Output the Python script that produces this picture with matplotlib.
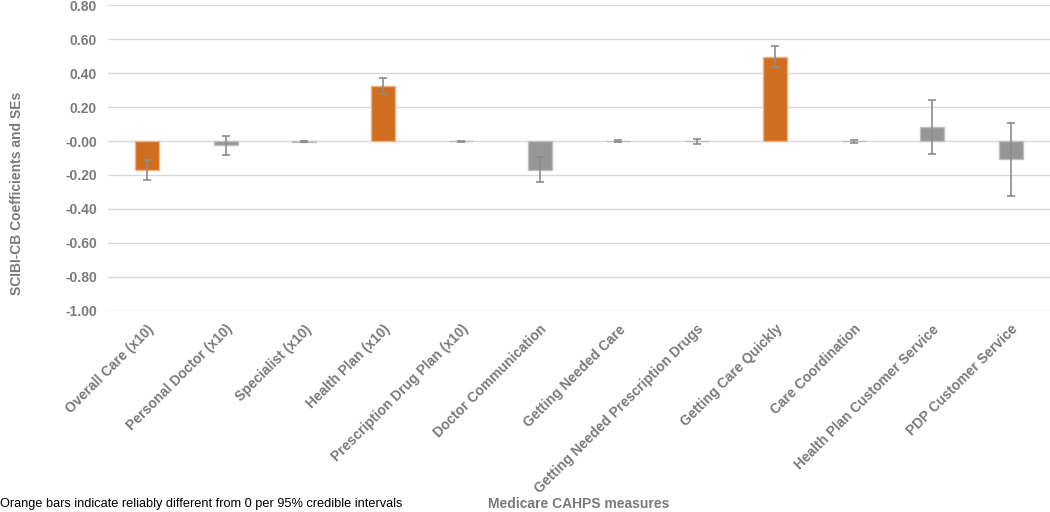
import matplotlib.pyplot as plt
import numpy as np

plt.rcParams['font.family'] = ['Liberation Sans', 'DejaVu Sans']

measures = ["Overall Care (x10)", "Personal Doctor (x10)", "Specialist (x10)",
            "Health Plan (x10)", "Prescription Drug Plan (x10)", "Doctor Communication",
            "Getting Needed Care", "Getting Needed Prescription Drugs",
            "Getting Care Quickly", "Care Coordination",
            "Health Plan Customer Service", "PDP Customer Service"]
coef = [-0.17, -0.025, -0.003, 0.325, -0.002, -0.168, -0.002, -0.002, 0.497, -0.002, 0.082, -0.108]
se = [0.058, 0.055, 0.002, 0.048, 0.002, 0.072, 0.005, 0.013, 0.063, 0.008, 0.158, 0.215]
reliable = [True, False, False, True, False, False, False, False, True, False, False, False]

orange = "#CF6E1E"
gray = "#969696"
txt = "#7A7A7A"

fig = plt.figure(figsize=(10.5, 5.12), dpi=100)
ax = fig.add_axes([108 / 1050, 1 - 311 / 512, 1 - 108 / 1050, 306 / 512])

x = np.arange(len(measures))
colors = [orange if r else gray for r in reliable]
edges = ["#F4B183" if r else "#BFBFBF" for r in reliable]
ax.bar(x, coef, width=0.31, color=colors, edgecolor=edges, linewidth=1, zorder=3)
ax.errorbar(x, coef, yerr=se, fmt="none", ecolor="#8C8C8C", elinewidth=1.2,
            capsize=3, capthick=1.2, zorder=4)

ax.set_ylim(-1.0, 0.8)
ax.set_xlim(-0.5, len(measures) - 0.5)
yt = np.arange(-1.0, 0.81, 0.2)
ax.set_yticks(yt)
ax.set_yticklabels([f"{v:.2f}" for v in yt], fontsize=10, fontweight="bold", color=txt)
ax.yaxis.grid(True, color="#D9D9D9", linewidth=1, zorder=0)
ax.tick_params(axis="both", length=0)
ax.tick_params(axis="y", pad=8)
for s in ax.spines.values():
    s.set_visible(False)

ax.set_xticks(x)
ax.set_xticklabels(measures, rotation=45, ha="right", va="top", rotation_mode="anchor",
                   fontsize=10, fontweight="bold", color=txt)
ax.tick_params(axis="x", pad=8)

ax.set_ylabel("SCIBI-CB Coefficients and SEs", fontsize=10, fontweight="bold", color=txt)
ax.yaxis.set_label_coords(-84 / 942, 118 / 306)

fig.text(0.0, 1 - 504 / 512, "Orange bars indicate reliably different from 0 per 95% credible intervals",
         fontsize=9.2, color="black", va="center", ha="left")
fig.text(579 / 1050, 1 - 504 / 512, "Medicare CAHPS measures", fontsize=10,
         fontweight="bold", color=txt, va="center", ha="center")

fig.savefig("out.png", dpi=100)
